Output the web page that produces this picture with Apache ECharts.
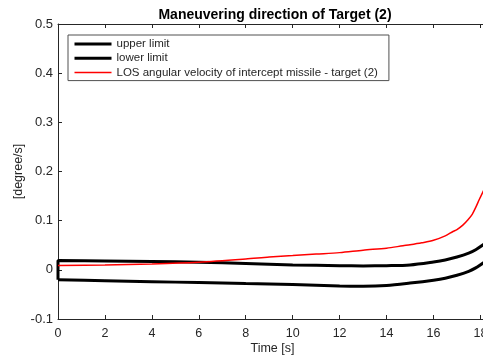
<!DOCTYPE html>
<html>
<head>
<meta charset="utf-8">
<script src="https://cdn.jsdelivr.net/npm/echarts@6/dist/echarts.min.js"></script>
<style>
  html, body { margin: 0; padding: 0; background: #fff; }
  #chart { width: 483px; height: 356px; }
</style>
</head>
<body>
<div id="chart"></div>
<script>
// Time samples [s]
var timeUpper = [0, 0, 2, 4, 6, 8, 10, 12, 13, 14, 15, 16, 16.5, 17, 17.5, 17.8, 18.15];
// Upper limit [degree/s] (first pair closes the band at t = 0)
var upperLimit = [-0.020, 0.019, 0.018, 0.017, 0.0155, 0.013, 0.010, 0.0085, 0.008, 0.0085, 0.010, 0.016, 0.020, 0.026, 0.034, 0.041, 0.052];

var timeLower = [0, 2, 4, 6, 8, 10, 12, 13, 14, 15, 16, 16.5, 17, 17.5, 17.8, 18.15];
// Lower limit [degree/s]
var lowerLimit = [-0.020, -0.022, -0.024, -0.026, -0.028, -0.030, -0.033, -0.0335, -0.032, -0.027, -0.021, -0.017, -0.011, -0.003, 0.004, 0.015];

var timeLos = [0, 2, 4, 6, 8, 9, 10, 11, 12, 13, 14, 14.7, 15, 15.5, 16, 16.5, 16.83, 17, 17.25, 17.47, 17.65, 17.82, 17.95, 18.15];
// LOS angular velocity of intercept missile - target (2) [degree/s]
var losRate = [0.009, 0.0098, 0.012, 0.0156, 0.022, 0.026, 0.029, 0.032, 0.035, 0.040, 0.044, 0.049, 0.051, 0.055, 0.060, 0.069, 0.078, 0.082, 0.091, 0.102, 0.113, 0.129, 0.143, 0.163];

var seriesNames = ['upper limit', 'lower limit', 'LOS angular velocity of intercept missile - target (2)'];

function pairs(xs, ys) {
  return xs.map(function (x, i) { return [x, ys[i]]; });
}

var ink = '#262626';
var fontFamily = '"Liberation Sans", Arial, Helvetica, sans-serif';

var chart = echarts.init(document.getElementById('chart'), null, { renderer: 'canvas' });

var xCommon = {
  type: 'value',
  min: 0,
  max: 18.28,
  interval: 2,
  splitLine: { show: false },
  axisLine: { show: true, onZero: false, lineStyle: { color: ink, width: 1 } },
  axisTick: { show: true, inside: true, length: 4, lineStyle: { color: ink } }
};

// Legend swatches: plain line, no marker
var noMarker = { color: 'transparent', borderWidth: 0, opacity: 0 };

chart.setOption({
  animation: false,
  backgroundColor: '#ffffff',
  title: {
    text: 'Maneuvering direction of Target (2)',
    left: 270,
    textAlign: 'center',
    top: 3,
    textStyle: { fontFamily: fontFamily, fontSize: 14, fontWeight: 'bold', color: '#000' }
  },
  grid: { left: 58, width: 429, top: 24, height: 295, containLabel: false, outerBoundsMode: 'none' },
  legend: {
    orient: 'vertical',
    left: 68,
    top: 35,
    padding: [3, 11, 2, 5],
    itemWidth: 37,
    itemHeight: 10,
    itemGap: 2.3,
    borderColor: '#505050',
    borderWidth: 1,
    backgroundColor: '#fff',
    textStyle: { fontFamily: fontFamily, fontSize: 11.5, lineHeight: 12, color: ink },
    data: [
      { name: seriesNames[0], lineStyle: { width: 3, color: '#000' }, itemStyle: noMarker },
      { name: seriesNames[1], lineStyle: { width: 3, color: '#000' }, itemStyle: noMarker },
      { name: seriesNames[2], lineStyle: { width: 1.5, color: '#ff0000' }, itemStyle: noMarker }
    ]
  },
  xAxis: [
    Object.assign({}, xCommon, {
      position: 'bottom',
      name: 'Time [s]',
      nameLocation: 'middle',
      nameGap: 23,
      nameMoveOverlap: false,
      nameTextStyle: { fontFamily: fontFamily, fontSize: 12.5, color: ink },
      axisLabel: {
        margin: 8,
        fontFamily: fontFamily,
        fontSize: 12.5,
        color: ink,
        formatter: function (v) { return Math.abs(v % 2) < 1e-9 ? String(v) : ''; }
      }
    }),
    Object.assign({}, xCommon, {
      position: 'top',
      axisLabel: { show: false }
    })
  ],
  yAxis: {
    type: 'value',
    min: -0.1,
    max: 0.5,
    interval: 0.1,
    name: '[degree/s]',
    nameLocation: 'middle',
    nameGap: 33,
    nameMoveOverlap: false,
    nameTextStyle: { fontFamily: fontFamily, fontSize: 12.5, color: ink },
    splitLine: { show: false },
    axisLine: { show: true, onZero: false, lineStyle: { color: ink, width: 1 } },
    axisTick: { show: true, inside: true, length: 4, lineStyle: { color: ink } },
    axisLabel: {
      margin: 5,
      fontFamily: fontFamily,
      fontSize: 13,
      color: ink,
      formatter: function (v) { return String(Math.round(v * 10) / 10); }
    }
  },
  series: [
    {
      name: seriesNames[0],
      type: 'line',
      data: pairs(timeUpper, upperLimit),
      smooth: 0.3,
      symbol: 'none',
      lineStyle: { color: '#000', width: 3 },
      itemStyle: { color: '#000' },
      z: 3
    },
    {
      name: seriesNames[1],
      type: 'line',
      data: pairs(timeLower, lowerLimit),
      smooth: 0.3,
      symbol: 'none',
      lineStyle: { color: '#000', width: 3 },
      itemStyle: { color: '#000' },
      z: 3
    },
    {
      name: seriesNames[2],
      type: 'line',
      data: pairs(timeLos, losRate),
      smooth: 0.3,
      symbol: 'none',
      lineStyle: { color: '#ff0000', width: 1.5 },
      itemStyle: { color: '#ff0000' },
      z: 4
    }
  ]
});
</script>
</body>
</html>
